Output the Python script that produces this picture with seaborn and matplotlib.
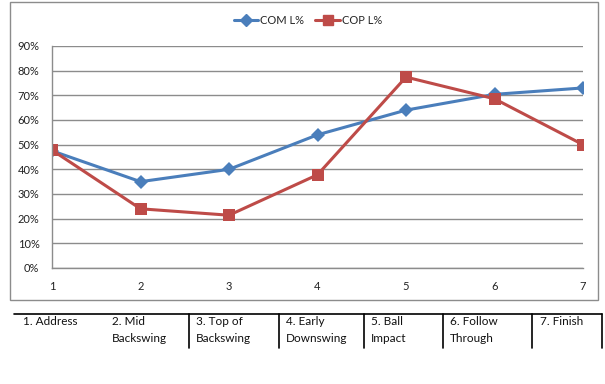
"""Swing phase COM / COP line chart with a phase table underneath."""

import matplotlib.pyplot as plt
import pandas as pd
import seaborn as sns
from matplotlib.lines import Line2D
from matplotlib.patches import Rectangle

positions = [1, 2, 3, 4, 5, 6, 7]
com_l = [0.475, 0.35, 0.40, 0.54, 0.64, 0.704, 0.73]
cop_l = [0.478, 0.24, 0.214, 0.378, 0.774, 0.686, 0.50]
series_names = ["COM L%", "COP L%"]
phase_labels = [
    "1. Address",
    "2. Mid\nBackswing",
    "3. Top of\nBackswing",
    "4. Early\nDownswing",
    "5. Ball\nImpact",
    "6. Follow\nThrough",
    "7. Finish",
]
y_ticks = [0, 0.1, 0.2, 0.3, 0.4, 0.5, 0.6, 0.7, 0.8, 0.9]

df = pd.DataFrame(
    {
        "pos": positions * 2,
        "val": com_l + cop_l,
        "series": [series_names[0]] * 7 + [series_names[1]] * 7,
    }
)

W, H = 605, 384
sns.set_style("white")
plt.rcParams["font.family"] = ["Lato", "DejaVu Sans"]

fig = plt.figure(figsize=(W / 100, H / 100), dpi=100)
ax = fig.add_axes([52 / W, 1 - 268 / H, (583 - 52) / W, (268 - 46) / H])

blue, red = "#4a7ebb", "#be4b48"
sns.lineplot(
    data=df,
    x="pos",
    y="val",
    hue="series",
    style="series",
    markers={"COM L%": "D", "COP L%": "s"},
    dashes=False,
    palette={"COM L%": blue, "COP L%": red},
    linewidth=2.2,
    markersize=7,
    markeredgewidth=0,
    legend=False,
    ax=ax,
)
# bigger squares for COP
for ln in ax.lines:
    if ln.get_marker() == "s":
        ln.set_markersize(8.5)

ax.set_xlim(1, 7)
ax.set_ylim(0, 0.9)
ax.set_xticks(positions)
ax.set_yticks(y_ticks)
ax.set_yticklabels([f"{round(t * 100)}%" for t in y_ticks])
ax.set_xlabel("")
ax.set_ylabel("")
ax.grid(axis="y", color="#8c8c8c", linewidth=1)
ax.set_axisbelow(True)
for side in ["top", "right"]:
    ax.spines[side].set_visible(False)
for side in ["left", "bottom"]:
    ax.spines[side].set_color("#8c8c8c")
    ax.spines[side].set_linewidth(1)
ax.tick_params(axis="both", which="both", direction="out", length=4,
               width=1, color="#8c8c8c", labelsize=8, labelcolor="#222222")
ax.tick_params(axis="y", pad=5)
ax.tick_params(axis="x", pad=5)
for lab in ax.get_xticklabels():
    lab.set_clip_on(False)

# legend
handles = [
    Line2D([], [], color=blue, marker="D", markersize=6, linewidth=2.2),
    Line2D([], [], color=red, marker="s", markersize=7, linewidth=2.2),
]
fig.legend(handles, series_names, loc="center", bbox_to_anchor=(308 / W, 1 - 20 / H),
           ncol=2, frameon=False, fontsize=8, handlelength=2.2, handletextpad=0.2,
           columnspacing=1.0)

# chart border
fig.add_artist(Rectangle((10 / W, 1 - 300 / H), 588 / W, 298 / H,
                         transform=fig.transFigure, fill=False,
                         edgecolor="#8c8c8c", linewidth=1))

# phase table under the chart
top_y = 1 - 314 / H
bot_y = 1 - 348 / H
fig.add_artist(Line2D([14 / W, 602 / W], [top_y, top_y], transform=fig.transFigure,
                      color="black", linewidth=1.2))
for xd in [189, 279, 364, 443, 532, 602]:
    fig.add_artist(Line2D([xd / W, xd / W], [top_y, bot_y], transform=fig.transFigure,
                          color="black", linewidth=1.2))
text_x = [23, 112, 196, 286, 371, 450, 540]
for tx, lab in zip(text_x, phase_labels):
    fig.text(tx / W, 1 - 316 / H, lab, ha="left", va="top", fontsize=8.5,
             linespacing=1.65, color="#111111")

fig.savefig("out.png", dpi=100)
